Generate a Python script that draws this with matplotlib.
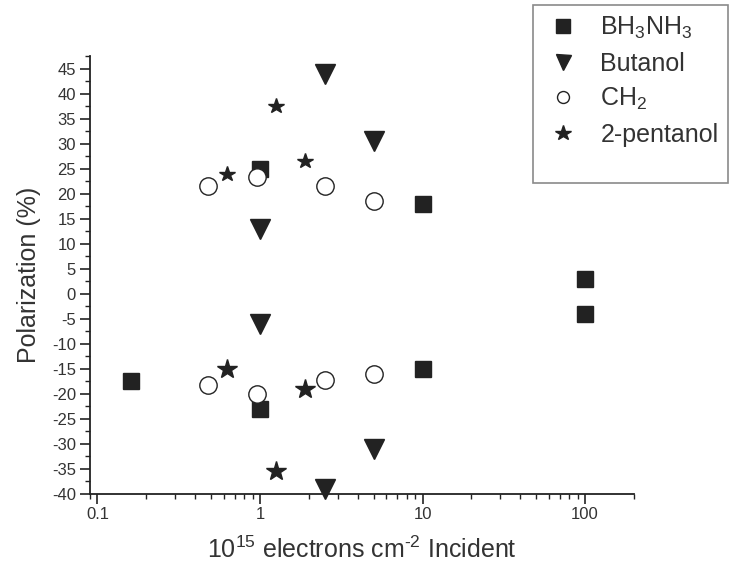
import numpy as np
import matplotlib
matplotlib.use('Agg')
import matplotlib.pyplot as plt
from matplotlib.lines import Line2D
from matplotlib.patches import Rectangle
from matplotlib.ticker import FuncFormatter, LogLocator, MultipleLocator, NullFormatter

plt.rcParams['font.family'] = ['Liberation Sans', 'DejaVu Sans']
plt.rcParams['mathtext.fontset'] = 'custom'
plt.rcParams['mathtext.rm'] = 'Liberation Sans'
plt.rcParams['mathtext.it'] = 'Liberation Sans:italic'

# dose (10^15 e/cm^2) and polarization (%) per sample
bh_x = [0.16, 1, 1, 10, 10, 100, 100]
bh_y = [-17.5, 25, -23, 18, -15, 3, -4]

but_x = [1, 1, 2.5, 2.5, 5, 5]
but_y = [13, -6, 44, -39, 30.5, -31]

ch2_x = [0.48, 0.48, 0.96, 0.96, 2.5, 2.5, 5, 5]
ch2_y = [21.5, -18.3, 23.3, -20, 21.5, -17.2, 18.5, -16]

pent_x = [0.63, 0.63, 1.25, 1.25, 1.88, 1.88]
pent_y = [24, -15, 37.5, -35.5, 26.5, -19]

labels = [r'BH$_3$NH$_3$', 'Butanol', r'CH$_2$', '2-pentanol']

ink = '#222222'
txt = '#333333'

fig = plt.figure(figsize=(7.3, 5.7), dpi=100)
ax = fig.add_axes([0.1233, 0.1342, 0.7452, 0.7675])

ax.plot(bh_x, bh_y, 's', ms=11, color=ink, clip_on=False)
ax.plot(but_x, but_y, 'v', ms=15, color=ink, clip_on=False)
ax.plot(ch2_x, ch2_y, 'o', ms=12.5, mfc='white', mec=ink, mew=1.0, clip_on=False)

# stars on the negative side came out a bit larger
px = np.array(pent_x)
py = np.array(pent_y)
neg = py < 0
ax.plot(px[~neg], py[~neg], '*', ms=11.5, color=ink, clip_on=False)
ax.plot(px[neg], py[neg], '*', ms=15, color=ink, clip_on=False)

ax.set_xscale('log')
ax.set_xlim(0.09, 200)
ax.set_ylim(-40, 47.5)

ax.xaxis.set_major_locator(LogLocator(base=10))
ax.xaxis.set_minor_locator(LogLocator(base=10, subs=np.arange(2, 10)))
ax.xaxis.set_major_formatter(FuncFormatter(lambda v, _: f'{v:g}'))
ax.xaxis.set_minor_formatter(NullFormatter())
ax.yaxis.set_major_locator(MultipleLocator(5))
ax.yaxis.set_minor_locator(MultipleLocator(2.5))
ax.yaxis.set_major_formatter(FuncFormatter(lambda v, _: f'{v:g}'))

for side in ['top', 'right']:
    ax.spines[side].set_visible(False)
for side in ['left', 'bottom']:
    ax.spines[side].set_linewidth(1.3)
    ax.spines[side].set_color(ink)

ax.tick_params(which='major', direction='out', length=7, width=1.2,
               color=ink, labelcolor=txt, labelsize=12, pad=3)
ax.tick_params(which='minor', direction='out', length=3.5, width=1.0, color=ink)

# hyphen (U+2010) keeps the exponent sign short like the tick labels
ax.set_xlabel('10$^{15}$ electrons cm$^{\u20102}$ Incident', fontsize=18, color=txt, labelpad=10)
ax.set_ylabel('Polarization (%)', fontsize=18, color=txt, labelpad=8)

# legend sits outside the axes in its own box
handles = [
    Line2D([], [], ls='none', marker='s', ms=9.4, color=ink),
    Line2D([], [], ls='none', marker='v', ms=10.8, color=ink),
    Line2D([], [], ls='none', marker='o', ms=8.6, mfc='white', mec=ink, mew=1.0),
    Line2D([], [], ls='none', marker='*', ms=11.4, color=ink),
]
fig.legend(handles, labels, loc='upper left',
           bbox_to_anchor=(548 / 730, 1 - 15 / 570), bbox_transform=fig.transFigure,
           frameon=False, fontsize=18, numpoints=1, handlelength=1.2,
           handletextpad=0.9, labelspacing=0.42, borderpad=0, borderaxespad=0,
           labelcolor=txt)
fig.add_artist(Rectangle((533 / 730, 1 - 183 / 570), 195 / 730, 178 / 570,
                         transform=fig.transFigure, fill=False,
                         ec='#8a8a8a', lw=1.2))

fig.savefig('out.png', dpi=100)
